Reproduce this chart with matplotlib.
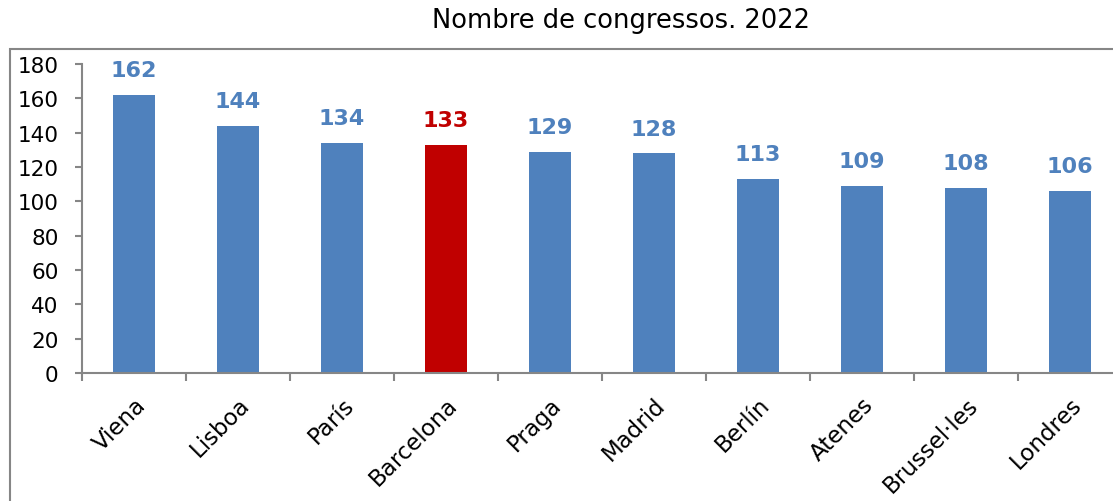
import matplotlib.pyplot as plt
from matplotlib.patches import Rectangle

cities = ['Viena', 'Lisboa', 'París', 'Barcelona', 'Praga', 'Madrid',
          'Berlín', 'Atenes', 'Brussel·les', 'Londres']
congresses = [162, 144, 134, 133, 129, 128, 113, 109, 108, 106]
highlight = 'Barcelona'

blue = '#4F81BD'
red = '#C00000'
grey = '#868686'

fig = plt.figure(figsize=(11.13, 5.02), dpi=100)
# outer chart frame (cut off on the right and bottom)
fig.patches.append(Rectangle((10 / 1113, -0.1), 1.2, 0.1 + (1 - 50 / 502),
                             transform=fig.transFigure, fill=False,
                             edgecolor=grey, linewidth=1.5))

ax = fig.add_axes([82 / 1113, 1 - 374 / 502, 1040 / 1113, 309 / 502])

colors = [red if c == highlight else blue for c in cities]
x = range(len(cities))
ax.bar(x, congresses, width=0.4, color=colors)

for i, v in enumerate(congresses):
    ax.annotate(str(v), (i, v), xytext=(0, 13.5), textcoords='offset points',
                ha='center', va='baseline', fontsize=16, fontweight='bold',
                color=colors[i])

ax.set_xlim(-0.5, len(cities) - 0.5)
ax.set_ylim(0, 180)
ax.set_yticks(range(0, 181, 20))
ax.tick_params(axis='y', labelsize=15.5, color=grey, length=5, width=1.5, pad=12)

ax.set_xticks(x)
ax.set_xticklabels(cities, rotation=45, ha='right', rotation_mode='anchor',
                   fontsize=16.5)
ax.tick_params(axis='x', length=0, pad=14)
ax.set_xticks([i - 0.5 for i in x], minor=True)
ax.tick_params(axis='x', which='minor', length=6, width=1.5, color=grey)

for s in ['top', 'right']:
    ax.spines[s].set_visible(False)
for s in ['left', 'bottom']:
    ax.spines[s].set_color(grey)
    ax.spines[s].set_linewidth(1.5)

fig.text(621 / 1113, 1 - 28 / 502, 'Nombre de congressos. 2022',
         ha='center', va='baseline', fontsize=18.5)

fig.savefig('out.png', dpi=100)
